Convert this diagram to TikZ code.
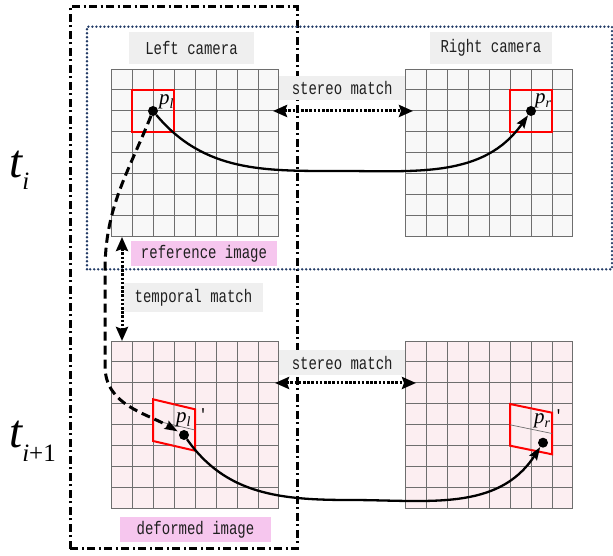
\documentclass[tikz,border=0pt]{standalone}
\usepackage{fontspec}
\setmainfont{Liberation Serif}
\setmonofont{Liberation Mono}
\usetikzlibrary{arrows.meta, positioning}

\definecolor{GridGray}{HTML}{6E6E6E}
\definecolor{RefFill}{HTML}{F8F8F8}
\definecolor{DefFill}{HTML}{FCEEF1}
\definecolor{TagGray}{HTML}{EFEFEF}
\definecolor{TagPink}{HTML}{F6C6EE}
\definecolor{TagText}{HTML}{202020}
\definecolor{FrameBlue}{HTML}{1F3864}

\newcommand{\SubIdx}[1]{\raisebox{-3.5pt}{\fontsize{14}{14}\selectfont #1}}
\newcommand{\PrimeMark}{{\upshape\ttfamily\fontsize{15}{15}\selectfont '}}
\newcommand{\TimeVar}[1]{{\rmfamily\itshape\fontsize{47}{47}\selectfont #1}}
\newcommand{\TimeSub}[1]{{\rmfamily\fontsize{25}{25}\selectfont #1}}
\newcommand{\TallText}[1]{\scalebox{1}[1.3]{#1}}

\begin{document}
\begin{tikzpicture}[
    x=1pt, y=1pt,
    node distance=5pt and 126pt,
    font=\ttfamily\fontsize{14}{16}\selectfont,
    ImgGrid/.style={minimum size=168pt, inner sep=0pt, outer sep=0pt},
    GridLine/.style={draw=GridGray, line width=1pt},
    Tag/.style={fill=TagGray, text=TagText, inner sep=0pt, minimum height=25pt},
    PinkTag/.style={Tag, fill=TagPink},
    Window/.style={draw=red, line width=2pt, minimum size=42pt, inner sep=0pt},
    PDot/.style={circle, fill=black, inner sep=0pt, minimum size=10pt},
    PLabel/.style={font=\rmfamily\itshape\fontsize{21}{21}\selectfont, inner sep=0pt, anchor=base west},
    TimeFrame/.style={line width=3pt, dash pattern=on 8pt off 3.5pt on 2pt off 3.5pt},
    CamFrame/.style={draw=FrameBlue, line width=2.6pt, line cap=round, dash pattern=on 0pt off 4pt},
    MatchArrow/.style={{Stealth[length=14pt,width=12pt,inset=2pt]}-{Stealth[length=14pt,width=12pt,inset=2pt]}, line width=3pt, dash pattern=on 2.6pt off 1.6pt},
    Track/.style={-{Stealth[length=13pt,width=9pt,inset=2pt]}, line width=2.3pt},
    TrackDashed/.style={Track, line width=3pt, dash pattern=on 9pt off 5pt}
  ]

  \useasboundingbox (0,0) rectangle (613,556);

  % ==================== IMAGES ====================

  \node (LeftRef) [ImgGrid, fill=RefFill] at (195,403) {};
  \node (RightRef) [ImgGrid, fill=RefFill, right=126pt of LeftRef] {};
  \node (LeftDef) [ImgGrid, fill=DefFill, below=104pt of LeftRef] {};
  \node (RightDef) [ImgGrid, fill=DefFill, right=126pt of LeftDef] {};

  \foreach \Img in {LeftRef, RightRef, LeftDef, RightDef}
    \draw[GridLine, shift={(\Img.south west)}] (0,0) grid[step=21pt] (168,168);

  % ==================== FRAMES ====================

  \draw[TimeFrame] (70,7) rectangle (297,549);
  \draw[CamFrame] (87,286.7) rectangle (612,529.3);

  % ==================== TAGS ====================

  \node (LeftCam) [Tag, minimum width=125pt, minimum height=32pt, above=5pt of LeftRef, xshift=-3.5pt] {\TallText{Left camera}};
  \node (RightCam) [Tag, minimum width=122pt, minimum height=32pt, above=5pt of RightRef, xshift=2pt] {\TallText{Right camera}};
  \node (StereoTop) [Tag, minimum width=126pt, minimum height=24pt, anchor=north west, yshift=-7pt] at (LeftRef.north east) {\TallText{stereo match}};
  \node (StereoBot) [Tag, minimum width=126pt, anchor=north west, yshift=-9pt] at (LeftDef.north east) {\TallText{stereo match}};
  \node (RefTag) [PinkTag, minimum width=146pt, below=4pt of LeftRef, xshift=9pt] {\TallText{reference image}};
  \node (TempTag) [Tag, minimum width=139pt, minimum height=29pt, below=46pt of LeftRef, xshift=-1.5pt] {\TallText{temporal match}};
  \node (DefTag) [PinkTag, minimum width=151pt, below=8pt of LeftDef, xshift=0.5pt] {\TallText{deformed image}};

  % ==================== PATCHES ====================

  \node (LeftWin) [Window] at (153,445) {};
  \node (RightWin) [Window] at (531,445) {};

  \draw[fill=DefFill, draw=red, line width=2pt] (153,156.7) -- (195,146.7) -- (195,105.3) -- (153,115) -- cycle;
  \draw[GridLine, line width=0.7pt] (153,135.9) -- (195,126) (174,151.7) -- (174,110.2);
  \draw[fill=DefFill, draw=red, line width=2pt] (510,152) -- (552,143.3) -- (552,101.7) -- (510,110.3) -- cycle;
  \draw[GridLine, line width=0.7pt] (510,131.2) -- (552,122.5) (531,147.7) -- (531,106);

  \node (Pl) [PDot] at (LeftWin.center) {};
  \node (Pr) [PDot] at (RightWin.center) {};
  \node (PlDef) [PDot] at (184,121) {};
  \node (PrDef) [PDot] at (543,113.3) {};

  \node (PlText) [PLabel] at (159,451) {p\SubIdx{l}};
  \node (PrText) [PLabel] at (535,452) {p\SubIdx{r}};
  \node (PlDefText) [PLabel] at (176,133) {p\SubIdx{l}\hspace{8pt}\raisebox{3pt}{\PrimeMark}};
  \node (PrDefText) [PLabel] at (534,132) {p\SubIdx{r}\hspace{4pt}\raisebox{3pt}{\PrimeMark}};

  % ==================== TIME STEPS ====================

  \node (Ti) [anchor=base west, inner sep=0pt] at (9,378) {\TimeVar{t}\raisebox{-12pt}{\TimeSub{\textit{i}}}};
  \node (TiNext) [anchor=base west, inner sep=0pt] at (9,108) {\TimeVar{t}\raisebox{-14pt}{\TimeSub{\textit{i}+1}}};

  % ==================== MATCHES ====================

  \draw[MatchArrow] ([xshift=-6pt, yshift=42pt]LeftRef.east) -- ([xshift=8pt, yshift=42pt]RightRef.west);
  \draw[MatchArrow] ([xshift=-4pt, yshift=42pt]LeftDef.east) -- ([xshift=11pt, yshift=42pt]RightDef.west);
  \draw[MatchArrow] ([xshift=11pt]LeftRef.south west) -- ([xshift=11pt]LeftDef.north west);

  \coordinate (TopDip) at (340,385);
  \coordinate (BotDip) at (350,56);
  \coordinate (DashTop) at (105,285);
  \coordinate (DashBot) at (105,190);

  \draw[Track] (Pl) to[out=-50, in=180] (TopDip) to[out=0, in=-125] (Pr);
  \draw[Track] (PlDef) to[out=-55, in=180] (BotDip) to[out=0, in=-123] (PrDef);
  \draw[TrackDashed, shorten >=2pt] (Pl) to[out=-112, in=90] (DashTop) -- (DashBot) to[out=-90, in=150] (PlDef);

\end{tikzpicture}
\end{document}
